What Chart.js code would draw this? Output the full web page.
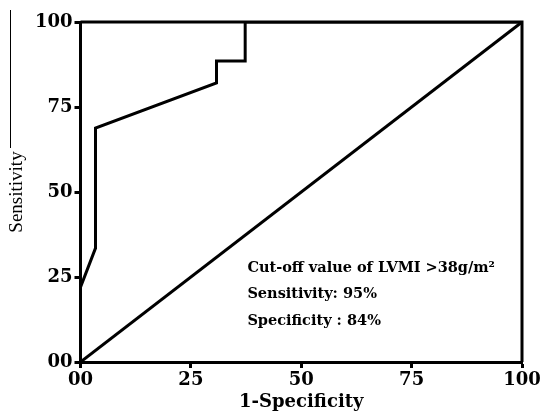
<!DOCTYPE html>
<html>
<head>
<meta charset="utf-8">
<script src="https://cdn.jsdelivr.net/npm/chart.js@4.4.0/dist/chart.umd.min.js"></script>
<style>
  body { margin: 0; background: #fff; }
  #wrap { width: 543px; height: 413px; position: relative; }
</style>
</head>
<body>
<div id="wrap"><canvas id="roc"></canvas></div>
<script>
// ROC curve (1-specificity %, sensitivity %)
const rocFpr = [0, 0, 3.4, 3.4, 30.8, 30.8, 37.3, 37.3, 100];
const rocTpr = [0, 22, 33.5, 68.8, 82.1, 88.5, 88.5, 100, 100];
// reference line
const refFpr = [0, 100];
const refTpr = [0, 100];
const tickValues = [0, 25, 50, 75, 100];
const tickLabels = ['00', '25', '50', '75', '100'];
const noteLines = ['Cut-off value of LVMI >38g/m\u00B2', 'Sensitivity: 95%', 'Specificity : 84%'];

function toPoints(xs, ys){
  return xs.map((x, i) => ({x: x, y: ys[i]}));
}

const tickFont = {family: '"DejaVu Serif"', weight: 'bold', size: 18};

// box on top and right + text note
const boxPlugin = {
  id: 'boxPlugin',
  afterDatasetsDraw(chart){
    const ctx = chart.ctx;
    const a = chart.chartArea;
    ctx.save();
    ctx.strokeStyle = '#000';
    ctx.lineWidth = 3;
    ctx.beginPath();
    ctx.moveTo(a.left, a.top);
    ctx.lineTo(a.right, a.top);
    ctx.lineTo(a.right, a.bottom);
    ctx.stroke();
    // thin stray line at left edge
    ctx.lineWidth = 1;
    ctx.beginPath();
    ctx.moveTo(10.5, 10);
    ctx.lineTo(10.5, 148);
    ctx.stroke();
    const xs = chart.scales.x, ys = chart.scales.y;
    ctx.fillStyle = '#000';
    ctx.font = 'bold 14.5px "DejaVu Serif"';
    ctx.textBaseline = 'middle';
    const left = xs.getPixelForValue(37.8);
    const rows = [27.5, 20, 12];
    noteLines.forEach((t, i) => {
      ctx.fillText(t, left, ys.getPixelForValue(rows[i]));
    });
    ctx.restore();
  }
};

new Chart(document.getElementById('roc'), {
  type: 'scatter',
  data: {
    datasets: [{
      data: toPoints(rocFpr, rocTpr),
      showLine: true,
      borderColor: '#000',
      borderWidth: 3,
      pointRadius: 0,
      tension: 0,
    }, {
      data: toPoints(refFpr, refTpr),
      showLine: true,
      borderColor: '#000',
      borderWidth: 3,
      pointRadius: 0,
    }]
  },
  options: {
    responsive: true,
    maintainAspectRatio: false,
    animation: false,
    layout: {padding: {top: 22, right: 21, left: 0, bottom: 0}},
    plugins: {
      legend: {display: false},
      tooltip: {enabled: false}
    },
    scales: {
      x: {
        type: 'linear',
        min: 0, max: 100,
        afterBuildTicks: (s) => { s.ticks = tickValues.map(v => ({value: v})); },
        afterFit: (s) => { s.height = 51; },
        ticks: {
          color: '#000',
          font: tickFont,
          padding: 2,
          maxRotation: 0,
          callback: (v) => tickLabels[tickValues.indexOf(v)]
        },
        grid: {display: true, drawOnChartArea: false, drawTicks: true, tickLength: 6, tickWidth: 3, tickColor: '#000'},
        border: {display: true, width: 3, color: '#000'},
        title: {
          display: true,
          text: '1-Specificity',
          color: '#000',
          font: {family: '"DejaVu Serif"', weight: 'bold', size: 18},
          padding: {top: 0, bottom: 0}
        }
      },
      y: {
        type: 'linear',
        min: 0, max: 100,
        afterBuildTicks: (s) => { s.ticks = tickValues.map(v => ({value: v})); },
        afterFit: (s) => { s.width = 80.5; },
        ticks: {
          color: '#000',
          font: tickFont,
          padding: 2,
          callback: (v) => tickLabels[tickValues.indexOf(v)]
        },
        grid: {display: true, drawOnChartArea: false, drawTicks: true, tickLength: 6, tickWidth: 3, tickColor: '#000'},
        border: {display: true, width: 3, color: '#000'},
        title: {
          display: true,
          text: 'Sensitivity',
          color: '#000',
          font: {family: '"Liberation Serif"', size: 19},
          padding: {top: 6, bottom: 0}
        }
      }
    }
  },
  plugins: [boxPlugin]
});
</script>
</body>
</html>
